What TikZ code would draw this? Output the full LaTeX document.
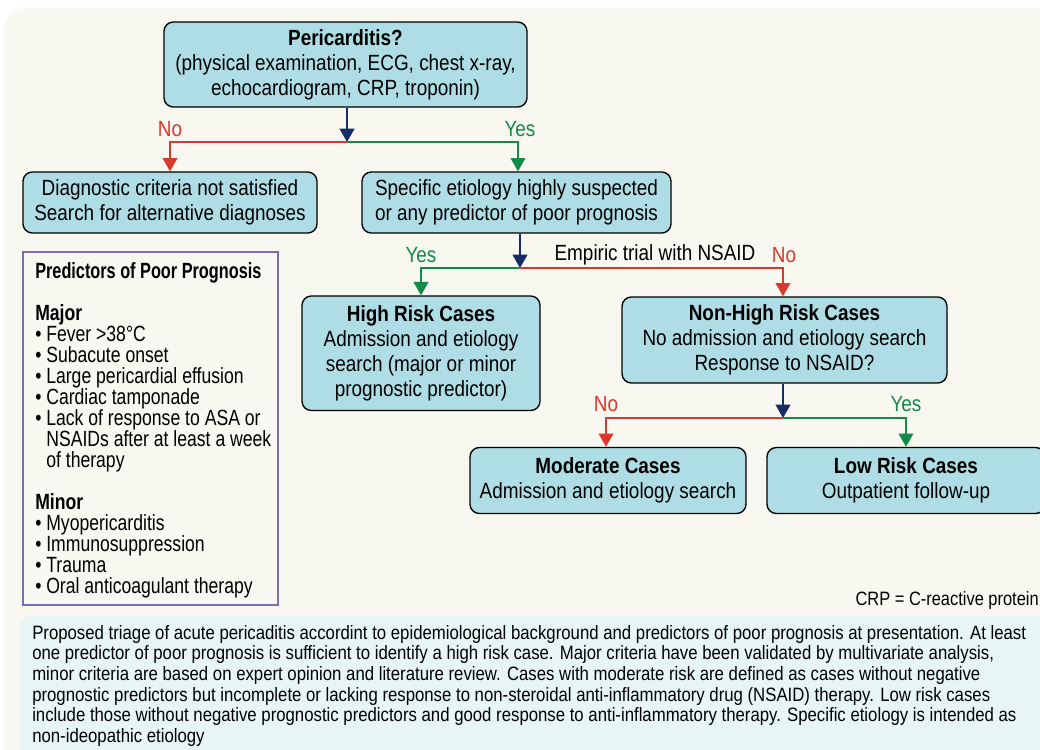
\documentclass[tikz,border=0pt]{standalone}
\usepackage{fontspec}
\usetikzlibrary{arrows.meta,calc}
\newfontfamily\cond[FakeStretch=0.86]{Liberation Sans}
\newfontfamily\condp[FakeStretch=0.80]{Liberation Sans}
\newfontfamily\condt[FakeStretch=0.74]{Liberation Sans}
\newfontfamily\condc[FakeStretch=0.85]{Liberation Sans}
\newfontfamily\condcap[FakeStretch=0.867]{Liberation Sans}
\definecolor{boxfill}{RGB}{174,221,229}
\definecolor{cred}{RGB}{217,56,44}
\definecolor{cgreen}{RGB}{18,138,72}
\definecolor{cnavy}{RGB}{22,44,100}
\definecolor{cpurple}{RGB}{122,110,180}
\definecolor{cream}{RGB}{248,247,240}
\definecolor{capfill}{RGB}{231,245,246}
\tikzset{
  flowbox/.style={draw=black, line width=1pt, fill=boxfill, rounded corners=7pt, align=center, inner sep=0pt,
    font=\cond\fontsize{16.5}{18.75}\selectfont},
  conn/.style={line width=1.4pt},
  tip/.style={-{Triangle[width=11pt,length=10pt]}},
  lbl/.style={font=\cond\fontsize{16.5}{18}\selectfont, inner sep=0pt},
}
\begin{document}
\begin{tikzpicture}[x=0.75pt,y=-0.75pt]
\useasboundingbox (0,0) rectangle (1040,750);
\fill[cream] (4,8) [rounded corners=16pt] -- (4,780) -- (1070,780) -- (1070,8) -- cycle;
\fill[capfill, rounded corners=8pt] (20,616) rectangle (1060,770);

% boxes
\node[flowbox, minimum width=272.25pt, minimum height=63.75pt] (peri) at (345.5,64.5)
  {{\bfseries Pericarditis?}\\(physical examination, ECG, chest x-ray,\\echocardiogram, CRP, troponin)};
\node[flowbox, minimum width=220.5pt, minimum height=45.75pt] (diag) at (170,202.5)
  {Diagnostic criteria not satisfied\\Search for alternative diagnoses};
\node[flowbox, minimum width=231.75pt, minimum height=45.75pt] (spec) at (516.5,202.5)
  {Specific etiology highly suspected\\or any predictor of poor prognosis};
\node[flowbox, minimum width=178.5pt, minimum height=85.9pt] (high) at (421,353.25)
  {{\bfseries High Risk Cases}\\Admission and etiology\\search (major or minor\\prognostic predictor)};
\node[flowbox, minimum width=243.75pt, minimum height=64.5pt] (nonhigh) at (784.5,340)
  {{\bfseries Non-High Risk Cases}\\No admission and etiology search\\Response to NSAID?};
\node[flowbox, minimum width=207pt, minimum height=49.5pt] (mod) at (608,480.5)
  {{\bfseries Moderate Cases}\\Admission and etiology search};
\node[flowbox, minimum width=208.5pt, minimum height=49.5pt] (low) at (906,480.5)
  {{\bfseries Low Risk Cases}\\Outpatient follow-up};

% split points
\coordinate (s1) at (347,142);
\coordinate (s2) at (520,268);
\coordinate (s3) at (783,418);

% connectors
\draw[conn, cnavy, tip] (peri.south -| s1) -- (s1);
\draw[conn, cred, tip] (s1) -| (diag.north);
\draw[conn, cgreen, tip] (s1) -| (spec.north -| 518,0);
\draw[conn, cnavy, tip] (spec.south -| s2) -- (s2);
\draw[conn, cgreen, tip] (s2) -| (high.north);
\draw[conn, cred, tip] (s2) -| (nonhigh.north -| s3);
\draw[conn, cnavy, tip] (nonhigh.south -| s3) -- (s3);
\draw[conn, cred, tip] (s3) -| (mod.north -| 606,0);
\draw[conn, cgreen, tip] (s3) -| (low.north);

% labels
\node[lbl, text=cred] (l1) at (170,129) {No};
\node[lbl, text=cgreen] (l2) at (520,129) {Yes};
\node[lbl, text=cgreen] (l3) at (421,255) {Yes};
\node[lbl] (l4) at (655,255) {Empiric trial with NSAID};
\node[lbl, text=cred] (l5) at (784,255) {No};
\node[lbl, text=cred] (l6) at (606,404) {No};
\node[lbl, text=cgreen] (l7) at (906,404) {Yes};

% predictors box
\draw[cpurple, line width=1pt] (23,252) rectangle (278,605);
\node[anchor=north west, align=left, inner sep=0pt, font=\condp\fontsize{16.5}{15.75}\selectfont] (pred) at (35,262)
  {{\condt\bfseries Predictors of Poor Prognosis}\\[15.75pt]
   {\bfseries Major}\\
   \textbullet\ Fever >38°C\\
   \textbullet\ Subacute onset\\
   \textbullet\ Large pericardial effusion\\
   \textbullet\ Cardiac tamponade\\
   \textbullet\ Lack of response to ASA or\\
   \phantom{\textbullet\ }NSAIDs after at least a week\\
   \phantom{\textbullet\ }of therapy\\[15.75pt]
   {\bfseries Minor}\\
   \textbullet\ Myopericarditis\\
   \textbullet\ Immunosuppression\\
   \textbullet\ Trauma\\
   \textbullet\ Oral anticoagulant therapy};

\node[anchor=east, inner sep=0pt, font=\condc\fontsize{14.5}{16}\selectfont] (crp) at (1039,600) {CRP = C-reactive protein};

\node[anchor=north west, align=left, inner sep=0pt, font=\condcap\fontsize{14.5}{15.45}\selectfont] (cap) at (32,625)
  {Proposed triage of acute pericaditis accordint to epidemiological background and predictors of poor prognosis at presentation. At least\\
   one predictor of poor prognosis is sufficient to identify a high risk case. Major criteria have been validated by multivariate analysis,\\
   minor criteria are based on expert opinion and literature review. Cases with moderate risk are defined as cases without negative\\
   prognostic predictors but incomplete or lacking response to non-steroidal anti-inflammatory drug (NSAID) therapy. Low risk cases\\
   include those without negative prognostic predictors and good response to anti-inflammatory therapy. Specific etiology is intended as\\
   non-ideopathic etiology};
\end{tikzpicture}
\end{document}
